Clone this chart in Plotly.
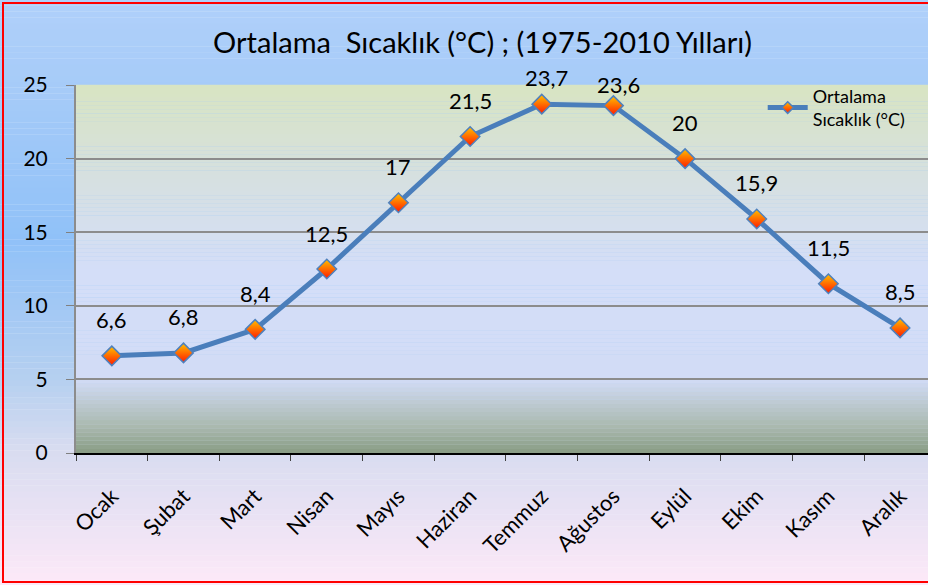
import plotly.graph_objects as go

months = ["Ocak", "Şubat", "Mart", "Nisan", "Mayıs", "Haziran",
          "Temmuz", "Ağustos", "Eylül", "Ekim", "Kasım", "Aralık"]
temps = [6.6, 6.8, 8.4, 12.5, 17, 21.5, 23.7, 23.6, 20, 15.9, 11.5, 8.5]
labels = [f"{v:g}".replace(".", ",") for v in temps]
y_ticks = [0, 5, 10, 15, 20, 25]

FONT = "Lato"
SERIES = "Ortalama<br>Sıcaklık (°C)"


def hex2rgb(h):
    h = h.lstrip("#")
    return [int(h[i:i + 2], 16) for i in (0, 2, 4)]


def mix(stops, t):
    # stops: list of (pos, hex) from bottom (0) to top (1)
    for (p0, c0), (p1, c1) in zip(stops[:-1], stops[1:]):
        if p0 <= t <= p1:
            f = (t - p0) / (p1 - p0) if p1 > p0 else 0
            a, b = hex2rgb(c0), hex2rgb(c1)
            return "rgb(%d,%d,%d)" % tuple(round(a[i] + (b[i] - a[i]) * f) for i in range(3))
    return stops[-1][1]


def strips(x0, x1, y0, y1, stops, n=80):
    out = []
    h = (y1 - y0) / n
    for i in range(n):
        t = (i + 0.5) / n
        out.append(dict(type="rect", xref="paper", yref="paper", layer="below",
                        x0=x0, x1=x1, y0=y0 + i * h, y1=y0 + (i + 1) * h + h * 0.05,
                        line=dict(width=0), fillcolor=mix(stops, t)))
    return out


# page background: pink at bottom, blue at top
bg_stops = [(0, "#fde9f8"), (0.23, "#d8dcf0"), (0.35, "#b6d0f0"), (0.59, "#90c1f8"),
            (0.85, "#a6cbf8"), (1, "#b0d0fa")]
# plot area: grey-green at bottom, light blue middle, pale olive at top
pa_stops = [(0, "#889c84"), (0.07, "#a9b8ae"), (0.2, "#d2dcf6"), (0.5, "#d4def8"),
            (0.75, "#d6e0e0"), (1, "#d8e4c2")]

L, T, B = 76, 85, 132
W, H = 928, 585
pw, ph = W - L, H - T - B

shapes = strips(-L / pw, 1.05, -B / ph, 1 + T / ph, bg_stops, 100)
shapes += strips(0, 1, 0, 1, pa_stops, 90)
shapes.append(dict(type="rect", xref="paper", yref="paper", layer="above",
                   x0=-(L - 3) / pw, x1=1.05, y0=-(B - 3) / ph, y1=1 + (T - 3) / ph,
                   line=dict(color="#ff0000", width=2), fillcolor="rgba(0,0,0,0)"))

line_style = dict(color="#4a7ebb", width=5)
marker_style = dict(symbol="diamond", color="#ffc000",
                    gradient=dict(type="vertical", color="#ff1a00"),
                    line=dict(color="#4f81bd", width=1.5))

fig = go.Figure()
fig.add_trace(go.Scatter(
    x=months, y=temps, mode="lines+markers", name=SERIES, showlegend=False,
    line=line_style, marker=dict(size=15, **marker_style), cliponaxis=False,
))
# legend entry with a smaller diamond, like the original
fig.add_trace(go.Scatter(
    x=[None], y=[None], mode="lines+markers", name=SERIES,
    line=line_style, marker=dict(size=9, **marker_style),
))

# the two summer labels sit lower, squeezed under the title
lift = {"Temmuz": (5, 27), "Ağustos": (5, 21)}
annotations = []
for m, v, t in zip(months, temps, labels):
    dx, dy = lift.get(m, (0, 36))
    annotations.append(dict(x=m, y=v, text=t, showarrow=False, xshift=dx, yshift=dy,
                            font=dict(family=FONT, size=22, color="#000000")))

fig.update_layout(
    width=W, height=H,
    margin=dict(l=L, r=0, t=T, b=B),
    paper_bgcolor="white",
    plot_bgcolor="rgba(0,0,0,0)",
    shapes=shapes,
    annotations=annotations,
    title=dict(text="Ortalama\u00a0 Sıcaklık (°C) ; (1975-2010 Yılları)",
               x=0.52, xanchor="center", y=0.927, yanchor="middle",
               font=dict(family=FONT, size=29, color="#000000")),
    font=dict(family=FONT, color="#000000"),
    showlegend=True,
    legend=dict(x=0.806, xanchor="left", y=1.02, yanchor="top",
                bgcolor="rgba(0,0,0,0)", font=dict(family=FONT, size=18),
                itemwidth=40, tracegroupgap=0),
    xaxis=dict(range=[-0.5, 11.39], tickangle=-45, tickson="boundaries",
               ticks="outside", ticklen=6, tickcolor="#404040",
               ticklabelstandoff=20,
               showline=True, linecolor="#000000", linewidth=1.5,
               showgrid=False, tickfont=dict(family=FONT, size=22)),
    yaxis=dict(range=[0, 25], tickvals=y_ticks, ticks="outside", ticklen=8,
               tickcolor="#808080", showline=True, linecolor="#8c8c8c", linewidth=2,
               ticklabelstandoff=14,
               showgrid=True, gridcolor="#8c8c8c", gridwidth=1.5, zeroline=False,
               tickfont=dict(family=FONT, size=21)),
)

fig.write_html("out.html", config={"displayModeBar": False},
               post_script="document.body.style.margin='0px';")
